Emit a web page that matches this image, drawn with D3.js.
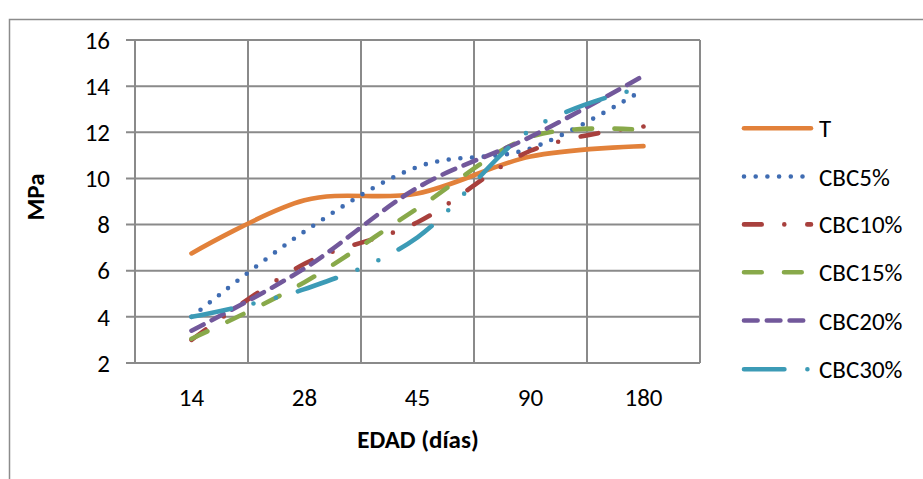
<!DOCTYPE html>
<html><head><meta charset="utf-8">
<script src="https://cdn.jsdelivr.net/npm/d3@7"></script>
<style>html,body{margin:0;padding:0;background:#fff;}svg{display:block;}</style>
</head><body>
<script>
const categories = ["14", "28", "45", "90", "180"];
const yTicks = [2, 4, 6, 8, 10, 12, 14, 16];
const seriesNames = ["T", "CBC5%", "CBC10%", "CBC15%", "CBC20%", "CBC30%"];
const valuesT      = [6.75, 9.05, 9.35, 10.95, 11.4];
const valuesCBC5   = [4.0, 7.7, 10.5, 11.3, 13.85];
const valuesCBC10  = [3.0, 6.3, 8.1, 11.2, 12.25];
const valuesCBC15  = [3.05, 5.5, 8.7, 11.8, 12.1];
const valuesCBC20  = [3.4, 6.1, 9.6, 11.8, 14.45];
const valuesCBC30  = [4.0, 5.2, 7.45, 12.1, 13.95];
const seriesValues = [valuesT, valuesCBC5, valuesCBC10, valuesCBC15, valuesCBC20, valuesCBC30];
const colors = ["#E2813A", "#3F6CB2", "#A8403D", "#88A94A", "#72589B", "#3C9BB6"];
const dashes = ["none", "0 11.7", "17.7 22.6 0 23", "17.7 22.3", "13.6 9.2", "40.4 23 0 23 0 23"];

const W = 923, H = 479;
const FONT = "Carlito, Calibri, Lato, sans-serif";
const svg = d3.select("body").append("svg").attr("width", W).attr("height", H);

// outer frame
svg.append("rect").attr("x", 9.5).attr("y", 19.5).attr("width", 960).attr("height", 520)
  .attr("fill", "none").attr("stroke", "#8c8c8c").attr("stroke-width", 1.5);

const x = d3.scaleBand().domain(categories).range([135, 700]);
const y = d3.scaleLinear().domain([2, 16]).range([363, 40]);
const cx = c => x(c) + x.bandwidth() / 2;

const grid = svg.append("g").attr("stroke", "#8a8a8a").attr("stroke-width", 2);
yTicks.forEach(t => grid.append("line").attr("x1", 126).attr("x2", 700).attr("y1", y(t)).attr("y2", y(t)));
categories.forEach(c => grid.append("line").attr("x1", x(c) + x.bandwidth()).attr("x2", x(c) + x.bandwidth()).attr("y1", 40).attr("y2", 363));
grid.append("line").attr("x1", 135).attr("x2", 135).attr("y1", 40).attr("y2", 363);

// y tick labels
svg.append("g").selectAll("text").data(yTicks).join("text")
  .attr("x", 110).attr("y", d => y(d)).attr("dy", "0.35em").attr("text-anchor", "end")
  .attr("font-family", FONT).attr("font-size", 25).attr("fill", "#000").text(d => d);

// x tick labels
svg.append("g").selectAll("text").data(categories).join("text")
  .attr("x", d => cx(d)).attr("y", 406).attr("text-anchor", "middle")
  .attr("font-family", FONT).attr("font-size", 25).attr("fill", "#000").text(d => d);

// axis titles
svg.append("text").attr("transform", "translate(44,197) rotate(-90)").attr("text-anchor", "middle")
  .attr("font-family", FONT).attr("font-weight", "bold").attr("font-size", 25).text("MPa");
svg.append("text").attr("x", 418).attr("y", 448).attr("text-anchor", "middle")
  .attr("font-family", FONT).attr("font-weight", "bold").attr("font-size", 25).text("EDAD (días)");

const line = d3.line().x((d, i) => cx(categories[i])).y(d => y(d)).curve(d3.curveCatmullRom.alpha(0));

seriesValues.forEach((vals, k) => {
  svg.append("path").attr("d", line(vals)).attr("fill", "none")
    .attr("stroke", colors[k]).attr("stroke-width", 4.6)
    .attr("stroke-linecap", "round").attr("stroke-linejoin", "round")
    .attr("stroke-dasharray", dashes[k]);
});

// legend
const legY = [128.3, 176.5, 224.4, 272.3, 320.5, 369.3];
seriesNames.forEach((n, k) => {
  svg.append("line").attr("x1", 744).attr("x2", 811).attr("y1", legY[k]).attr("y2", legY[k])
    .attr("stroke", colors[k]).attr("stroke-width", 4.6).attr("stroke-linecap", "round")
    .attr("stroke-dasharray", dashes[k]);
  svg.append("text").attr("x", 819).attr("y", legY[k]).attr("dy", "0.36em")
    .attr("font-family", FONT).attr("font-size", 25).attr("fill", "#000").text(n);
});
</script>
</body></html>
